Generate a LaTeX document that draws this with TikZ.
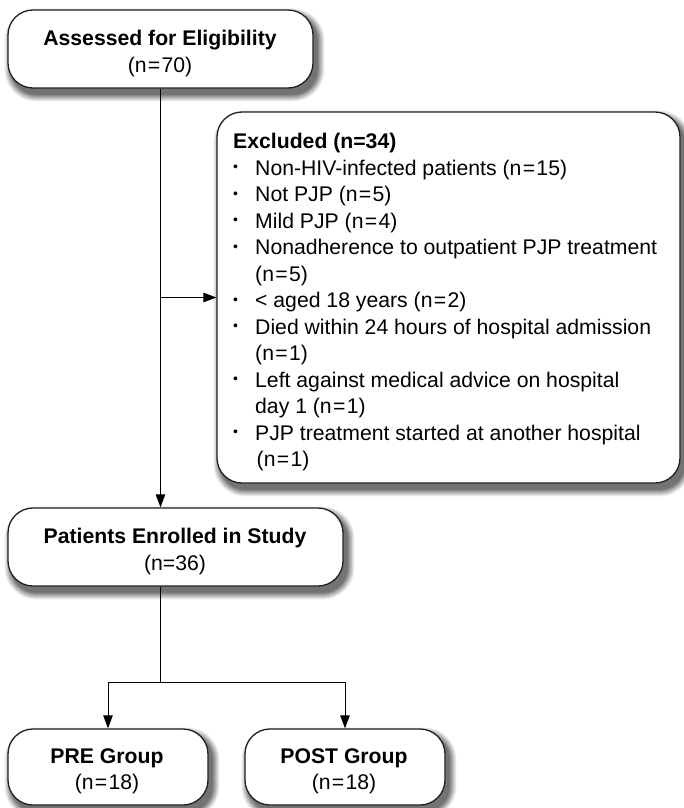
\documentclass[tikz,border=0pt]{standalone}
\usepackage{fontspec}
\setmainfont{Liberation Sans}
\usetikzlibrary{arrows.meta,calc}
\pgfdeclarelayer{background}
\pgfsetlayers{background,main}
\newcommand\fsz{\fontsize{21.2}{26.5}\selectfont}
\newcommand\eqs{\kern1.3pt=\kern1.3pt}
\newcommand\bul{\raisebox{3.3pt}{\fontsize{14}{14}\selectfont •}}
\newcommand\shadfor[2]{%
  \begin{pgfonlayer}{background}
  \foreach \k in {0,...,13} {
    \pgfmathsetmacro\e{7-\k*0.55}
    \pgfmathsetmacro\c{3+\k*4}
    \pgfmathsetmacro\rr{#2+\e}
    \fill[black!\c, rounded corners=\rr pt]
      ($(#1.north west)+(4-\e,6-\e)$) rectangle ($(#1.south east)+(4+\e,6+\e)$);
  }
  \end{pgfonlayer}}
\begin{document}
\begin{tikzpicture}[x=1pt,y=-1pt,
  box/.style={draw=black!88, line width=1.3pt, fill=white, rounded corners=25pt, inner sep=0pt},
  txt/.style={align=center, font=\fsz, inner sep=0pt},
  conn/.style={draw=black, line width=1pt},
  arr/.style={conn, -{Triangle[length=13pt,width=9.5pt]}}]
\useasboundingbox (0,0) rectangle (684,808);

\node[box, minimum width=305pt, minimum height=78pt] (top) at (160.5,49) {};
\node[txt] (toptxt) at (160,53.5) {\textbf{Assessed for Eligibility}\\(n\eqs70)};

\node[box, minimum width=463pt, minimum height=371pt] (exc) at (448.5,297.5) {};

\node[anchor=north west, font=\fsz, inner sep=0pt] (exlist) at (233,130)
  {\begin{tabular}{@{}p{22pt}@{}l@{}}
   \multicolumn{2}{@{}l@{}}{\textbf{Excluded (n=34)}}\\
   \bul & Non-HIV-infected patients (n\eqs15)\\
   \bul & Not PJP (n\eqs5)\\
   \bul & Mild PJP (n\eqs4)\\
   \bul & Nonadherence to outpatient PJP treatment\\
        & (n\eqs5)\\
   \bul & < aged 18 years (n\eqs2)\\
   \bul & Died within 24 hours of hospital admission\\
        & (n\eqs1)\\
   \bul & Left against medical advice on hospital\\
        & day 1 (n\eqs1)\\
   \bul & PJP treatment started at another hospital\\
        & \kern1.5pt(n\eqs1)
   \end{tabular}};

\node[box, minimum width=335pt, minimum height=78pt] (enr) at (175.5,547) {};
\node[txt] (enrtxt) at (175,551.5) {\textbf{Patients Enrolled in Study}\\(n=36)};

\node[box, minimum width=200pt, minimum height=76pt] (pre) at (108,767) {};
\node[txt] (pretxt) at (107,771.5) {\textbf{PRE Group}\\(n\eqs18)};
\node[box, minimum width=200pt, minimum height=76pt] (post) at (345,767) {};
\node[txt] (posttxt) at (344,771.5) {\textbf{POST Group}\\(n\eqs18)};

\shadfor{top}{25}
\shadfor{exc}{25}
\shadfor{enr}{25}
\shadfor{pre}{25}
\shadfor{post}{25}

\coordinate (j1) at (top.south |- exc.west);
\coordinate (j2) at ([yshift=-96pt]top.south |- enr.south);

\draw[arr] (top.south) -- (top.south |- enr.north);
\draw[arr] (j1) -- (exc.west);
\draw[conn] (top.south |- enr.south) -- (j2);
\draw[arr] (j2) -| (pre.north);
\draw[arr] (j2) -| (post.north);
\end{tikzpicture}
\end{document}
